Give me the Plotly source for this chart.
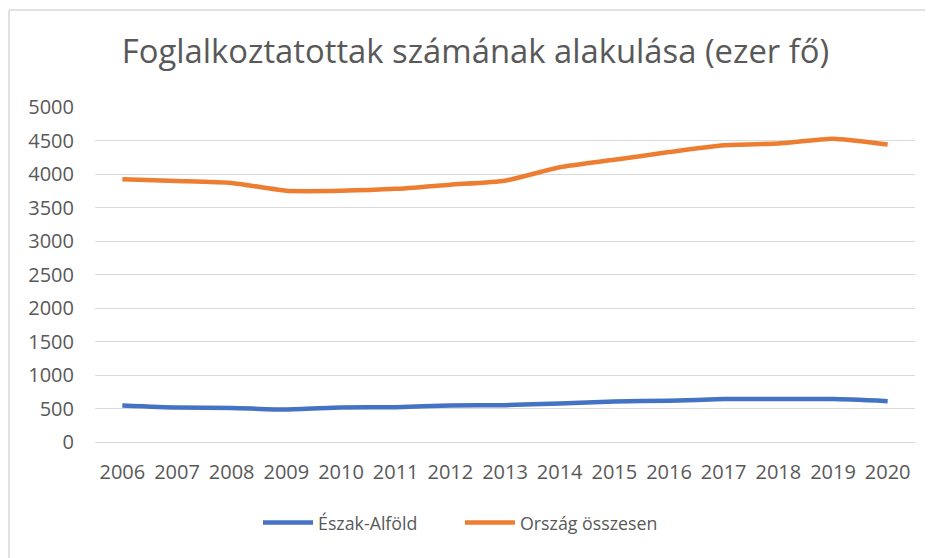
import plotly.graph_objects as go

years = [str(y) for y in range(2006, 2021)]
eszak_alfold = [545, 515, 508, 485, 515, 520, 545, 550, 575, 605, 615, 640, 640, 640, 610]
orszag = [3920, 3896, 3867, 3750, 3750, 3778, 3841, 3900, 4100, 4212, 4327, 4429, 4455, 4525, 4439]
y_ticks = list(range(0, 5001, 500))

FONT = "'Open Sans', sans-serif"
GREY = "#595959"

fig = go.Figure()
fig.add_trace(go.Scatter(x=years, y=eszak_alfold, name="Észak-Alföld", mode="lines",
                         line=dict(color="#4472C4", width=4.5, shape="spline", smoothing=0.5)))
fig.add_trace(go.Scatter(x=years, y=orszag, name="Ország összesen", mode="lines",
                         line=dict(color="#ED7D31", width=4.5, shape="spline", smoothing=0.5)))

# the page body adds an 8px offset; figure is sized to fit the window without scrollbars
OFF = 8
W, H = 933 - OFF, 558 - OFF
L, T = 95 - OFF, 107 - OFF
R, B = W - (915 - OFF), H - (442 - OFF)
pw, ph = W - L - R, H - T - B

def px_x(px):
    return (px - OFF - L) / pw

def px_y(py):
    return 1 - (py - OFF - T) / ph

border = dict(color="#d9d9d9", width=1.5)

fig.update_layout(
    width=W, height=H,
    margin=dict(l=L, r=R, t=T, b=B, autoexpand=False),
    paper_bgcolor="white", plot_bgcolor="white",
    font=dict(family=FONT, color=GREY, size=19),
    title=dict(text="Foglalkoztatottak számának alakulása (ezer fő)",
               x=(475.5 - OFF) / W, xanchor="center", y=1 - (52 - OFF) / H, yanchor="middle",
               font=dict(size=32.8, color=GREY, family=FONT)),
    showlegend=True,
    legend=dict(orientation="h", x=px_x(258), xanchor="left", y=px_y(523), yanchor="middle",
                font=dict(size=17.8, color=GREY), itemwidth=50, entrywidth=137,
                entrywidthmode="pixels"),
    xaxis=dict(type="category", range=[-0.5, 14.5], showgrid=False, showline=True,
               linecolor="#d9d9d9", linewidth=1, ticks="", tickfont=dict(size=20, color=GREY),
               ticklabelstandoff=12, automargin=False),
    yaxis=dict(range=[0, 5000], tickvals=y_ticks, showgrid=True, gridcolor="#d9d9d9",
               gridwidth=1, zeroline=False, showline=False, ticks="",
               tickfont=dict(size=20, color=GREY), ticklabelstandoff=20, automargin=False),
    shapes=[
        dict(type="line", xref="paper", yref="paper",
             x0=px_x(9), x1=px_x(940), y0=px_y(10), y1=px_y(10), line=border, layer="below"),
        dict(type="line", xref="paper", yref="paper",
             x0=px_x(9), x1=px_x(9), y0=px_y(10), y1=px_y(570), line=border, layer="below"),
    ],
)

fig.write_html("out.html")
